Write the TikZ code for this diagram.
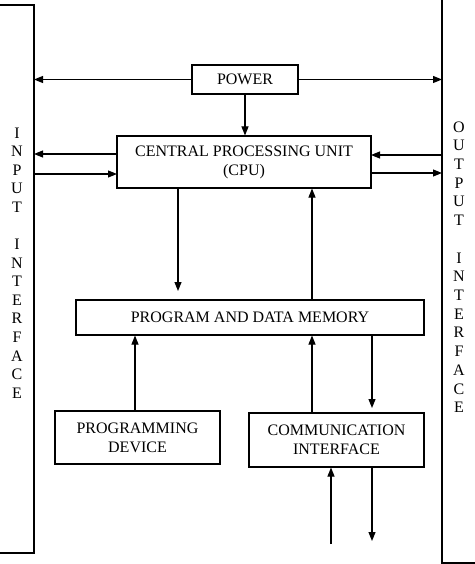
\documentclass[tikz,border=0pt]{standalone}
\usepackage{fontspec}
\setmainfont{Liberation Serif}
\usetikzlibrary{arrows.meta}
\begin{document}
\begin{tikzpicture}[x=1pt,y=-1pt,
  blk/.style={draw,line width=1.1pt,inner sep=0pt,font=\fontsize{16}{19}\selectfont,align=center},
  con/.style={line width=1.1pt,-{Triangle[length=9pt,width=7pt]}},
  vlet/.style={font=\fontsize{16}{19}\selectfont,inner sep=0pt}]
\useasboundingbox (0,0) rectangle (474,564);
\fill[white] (0,0) rectangle (474,564);
% interfaces
\draw[line width=1.1pt] (-5,5) -- (34,5) -- (34,553) -- (-5,553);
\draw[line width=1.1pt] (442,-5) -- (442,563) -- (480,563);
\coordinate (inR) at (34,0);
\coordinate (outL) at (442,0);
% blocks
\node[blk,minimum width=106pt,minimum height=29pt] (pw) at (245,79.5) {POWER};
\node[blk,minimum width=254pt,minimum height=52pt] (cpu) at (244,162) {CENTRAL PROCESSING UNIT\\(CPU)};
\node[blk,minimum width=348pt,minimum height=35pt] (mem) at (250,317.5) {PROGRAM AND DATA MEMORY};
\node[blk,minimum width=165pt,minimum height=53pt] (pd) at (137.5,437.5) {PROGRAMMING\\DEVICE};
\node[blk,minimum width=175pt,minimum height=54pt] (ci) at (336.5,440) {COMMUNICATION\\INTERFACE};
% interface letters
\foreach \l [count=\i] in {I,N,P,U,T,{},I,N,T,E,R,F,A,C,E}
  \node[vlet] (il\i) at (17,{133+(\i-1)*18.57}) {\l};
\foreach \l [count=\i] in {O,U,T,P,U,T,{},I,N,T,E,R,F,A,C,E}
  \node[vlet] (ol\i) at (459,{127+(\i-1)*18.7}) {\l};
% power connectors
\draw[con] (pw.west) -- (inR |- pw.west);
\draw[con] (pw.east) -- (outL |- pw.east);
\draw[con] (pw.south) -- (cpu.north -| pw.south);
% cpu to interfaces
\coordinate (c1) at (117,154);
\coordinate (c2) at (117,174);
\coordinate (c3) at (371,155);
\coordinate (c4) at (371,173);
\draw[con] (c1) -- (inR |- c1);
\draw[con] (inR |- c2) -- (c2);
\draw[con] (outL |- c3) -- (c3);
\draw[con] (c4) -- (outL |- c4);
% cpu <-> memory
\coordinate (m1) at (178,291);
\draw[con] (cpu.south -| m1) -- (m1);
\coordinate (m2) at (312,0);
\draw[con] (mem.north -| m2) -- (cpu.south -| m2);
% lower connections
\coordinate (p1) at (135,0);
\draw[con] (pd.north -| p1) -- (mem.south -| p1);
\draw[con] (ci.north -| m2) -- (mem.south -| m2);
\coordinate (m3) at (372,408);
\draw[con] (mem.south -| m3) -- (m3);
\coordinate (b1) at (331,544);
\coordinate (b2) at (372,541);
\draw[con] (b1) -- (ci.south -| b1);
\draw[con] (ci.south -| b2) -- (b2);
\end{tikzpicture}
\end{document}
